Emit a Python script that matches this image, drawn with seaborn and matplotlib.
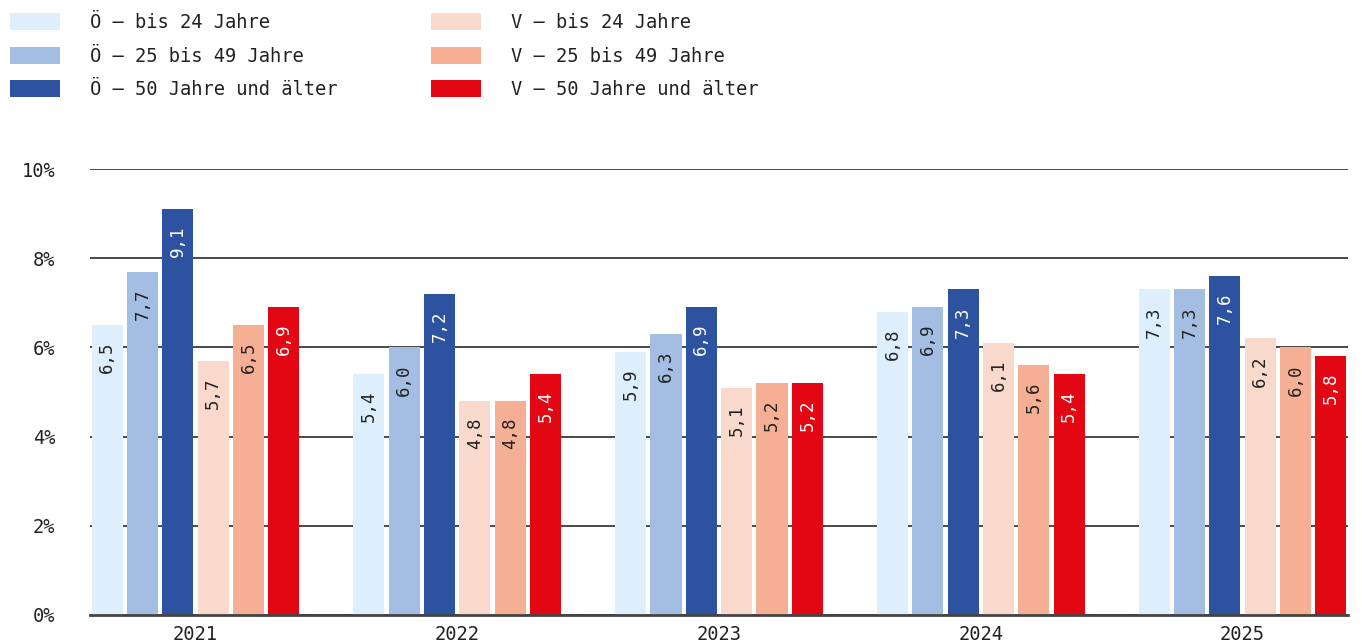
import pandas as pd
import seaborn as sns
import matplotlib.pyplot as plt

# data
years = ['2021', '2022', '2023', '2024', '2025']
series = ['Ö – bis 24 Jahre', 'Ö – 25 bis 49 Jahre', 'Ö – 50 Jahre und älter',
          'V – bis 24 Jahre', 'V – 25 bis 49 Jahre', 'V – 50 Jahre und älter']
oe_bis24 = [6.5, 5.4, 5.9, 6.8, 7.3]
oe_25_49 = [7.7, 6.0, 6.3, 6.9, 7.3]
oe_50 = [9.1, 7.2, 6.9, 7.3, 7.6]
v_bis24 = [5.7, 4.8, 5.1, 6.1, 6.2]
v_25_49 = [6.5, 4.8, 5.2, 5.6, 6.0]
v_50 = [6.9, 5.4, 5.2, 5.4, 5.8]
colors = ['#DDEFFC', '#A4BEE3', '#2D52A0', '#F9D9CB', '#F5AF94', '#E30613']
label_colors = ['#222222', '#222222', 'white', '#222222', '#222222', 'white']

rows = []
for name, vals in zip(series, [oe_bis24, oe_25_49, oe_50, v_bis24, v_25_49, v_50]):
    for y, v in zip(years, vals):
        rows.append({'Jahr': y, 'Gruppe': name, 'Wert': v})
df = pd.DataFrame(rows)

sns.set_theme(style='white')
plt.rcParams['font.family'] = ['DejaVu Sans Mono', 'DejaVu Sans']

fig = plt.figure(figsize=(13.62, 6.43), dpi=100)
ax = fig.add_axes([90 / 1362, 1 - 615 / 643, 1258 / 1362, 446 / 643])

sns.barplot(data=df, x='Jahr', y='Wert', hue='Gruppe', hue_order=series,
            palette=colors, saturation=1, width=0.81, gap=0.12,
            linewidth=0, ax=ax, zorder=3)

# value labels inside the bars
for cont, tc in zip(ax.containers, label_colors):
    for bar in cont:
        h = bar.get_height()
        ax.annotate(f'{h:.1f}'.replace('.', ','),
                    (bar.get_x() + bar.get_width() / 2, h),
                    xytext=(0, -12), textcoords='offset points',
                    rotation=90, ha='center', va='top',
                    fontsize=12.5, color=tc, zorder=4)

ax.set_ylim(0, 10)
ax.set_xlim(-0.403, 4.403)
ax.set_yticks([0, 2, 4, 6, 8, 10])
ax.set_yticklabels([f'{t}%' for t in [0, 2, 4, 6, 8, 10]])
ax.yaxis.grid(True, color='#2a2a2a', linewidth=1.2, zorder=0)
ax.set_axisbelow(True)
ax.set_xlabel('')
ax.set_ylabel('')
ax.tick_params(axis='y', length=0, pad=25, labelsize=13.5, labelcolor='#222222')
ax.tick_params(axis='x', length=0, pad=7, labelsize=13.5, labelcolor='#222222')
for s in ['left', 'right', 'top']:
    ax.spines[s].set_visible(False)
ax.spines['bottom'].set_color('#444444')
ax.spines['bottom'].set_linewidth(2)
ax.spines['bottom'].set_zorder(5)

# legend on top, two columns
handles, labels = ax.get_legend_handles_labels()
ax.legend_.remove()
fig.legend(handles, labels, loc='upper left', bbox_to_anchor=(10 / 1362, 1 - 13 / 643),
           ncol=2, frameon=False, fontsize=13.5, borderpad=0, borderaxespad=0,
           handlelength=2.67, handleheight=1.0, handletextpad=1.6,
           columnspacing=5.0, labelspacing=0.78, labelcolor='#222222')

fig.savefig('out.png', dpi=100, facecolor='white')
